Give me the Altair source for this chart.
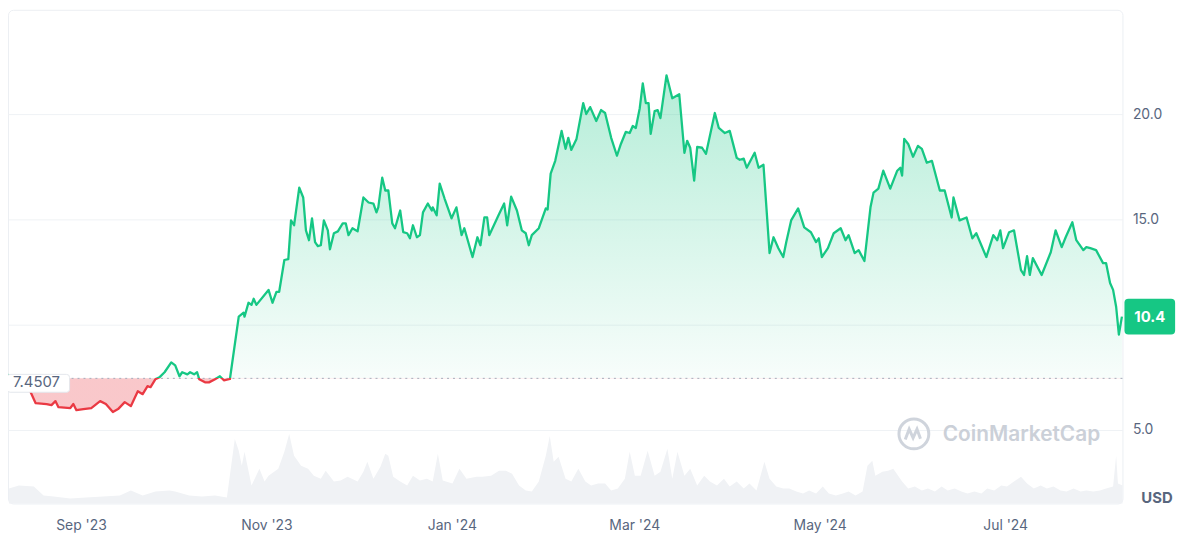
import altair as alt
import pandas as pd

# ---------------- data ----------------
START = pd.Timestamp("2023-08-08")
BASE = 7.4507  # reference (opening) price, USD

# price: days since 8 Aug 2023, USD
PRICE_DAY = [
    0.0, 3.0, 6.5, 8.5, 9.1, 12.7, 14.3, 15.6, 16.6, 20.5,
    21.5, 22.5, 24.8, 27.4, 30.3, 32.2, 34.5, 36.2, 38.4, 40.4,
    42.7, 44.3, 45.9, 46.9, 48.5, 49.8, 51.5, 53.7, 55.0, 56.4,
    57.3, 59.0, 59.9, 61.2, 62.2, 62.9, 64.8, 66.1, 68.1, 69.7,
    71.0, 73.0, 75.9, 77.5, 77.8, 79.1, 80.1, 80.8, 81.7, 85.7,
    87.0, 88.3, 89.2, 90.9, 92.2, 93.1, 94.1, 95.8, 97.1, 98.0,
    99.0, 100.0, 101.0, 101.9, 102.9, 103.9, 105.2, 105.9, 107.2, 108.5,
    110.1, 111.1, 112.0, 113.3, 115.0, 116.9, 118.6, 120.2, 121.2, 121.8,
    123.1, 124.1, 125.1, 126.4, 127.3, 129.0, 130.0, 131.3, 132.2, 133.2,
    134.5, 135.5, 136.5, 138.1, 139.4, 139.7, 141.0, 142.0, 143.6, 145.9,
    147.5, 149.2, 150.1, 152.8, 154.4, 155.4, 156.7, 157.6, 158.3, 161.5,
    163.2, 164.2, 165.5, 167.4, 169.0, 170.3, 171.3, 172.3, 174.6, 176.9,
    177.5, 178.5, 180.0, 182.1, 183.4, 184.3, 185.3, 187.0, 189.2, 190.2,
    191.5, 193.5, 195.1, 196.4, 198.4, 200.3, 201.6, 203.2, 204.5, 205.5,
    206.5, 207.8, 208.8, 209.8, 210.7, 211.4, 212.7, 213.7, 214.6, 216.6,
    218.5, 220.8, 222.5, 223.4, 224.4, 225.7, 226.7, 228.3, 229.6, 232.5,
    233.8, 235.8, 237.4, 239.7, 240.7, 242.0, 243.0, 245.6, 246.9, 248.5,
    250.5, 251.8, 253.4, 255.0, 256.0, 257.6, 259.9, 261.9, 264.1, 265.8,
    266.7, 267.7, 269.7, 271.6, 273.9, 275.5, 276.5, 278.5, 279.8, 281.7,
    283.7, 284.7, 286.3, 287.9, 290.2, 292.5, 293.5, 294.1, 294.8, 296.1,
    297.7, 299.3, 300.6, 302.2, 303.9, 306.5, 308.1, 310.4, 311.0, 313.0,
    315.3, 317.2, 318.5, 321.8, 324.1, 325.4, 326.4, 327.3, 329.3, 330.9,
    333.2, 334.2, 335.2, 336.1, 337.1, 340.0, 343.0, 344.6, 346.6, 347.9,
    350.1, 351.4, 353.7, 354.7, 356.0, 357.9, 360.2, 361.2, 362.5, 363.5,
    364.5, 365.4, 366.4,
]
PRICE_USD = [
    7.62, 7.40, 7.10, 6.46, 6.27, 6.23, 6.18, 6.37, 6.08, 6.04,
    6.23, 5.94, 5.99, 6.04, 6.37, 6.23, 5.85, 5.99, 6.32, 6.13,
    6.84, 6.70, 7.08, 7.03, 7.41, 7.50, 7.74, 8.21, 8.07, 7.55,
    7.74, 7.64, 7.74, 7.64, 7.74, 7.41, 7.26, 7.26, 7.41, 7.55,
    7.36, 7.42, 10.38, 10.57, 10.38, 11.04, 10.94, 11.23, 10.94, 11.65,
    11.04, 11.56, 11.56, 13.07, 13.11, 14.95, 14.72, 16.51, 16.04, 14.48,
    14.01, 15.05, 13.92, 13.73, 13.77, 14.95, 14.48, 13.58, 14.34, 14.43,
    14.81, 14.81, 14.25, 14.58, 14.43, 16.04, 15.80, 15.75, 15.33, 15.57,
    16.98, 16.37, 16.37, 14.81, 14.58, 15.42, 14.39, 14.34, 14.10, 14.72,
    14.15, 14.25, 15.33, 15.75, 15.42, 15.57, 15.19, 16.70, 15.99, 15.05,
    15.57, 14.25, 14.58, 13.21, 14.15, 13.77, 15.09, 15.09, 14.25, 15.24,
    15.75, 14.72, 16.08, 15.42, 14.48, 14.34, 13.77, 14.25, 14.58, 15.52,
    15.47, 17.17, 17.78, 19.20, 18.35, 18.87, 18.30, 18.82, 20.52, 20.00,
    20.33, 19.67, 20.19, 20.05, 18.87, 18.02, 18.58, 19.15, 19.10, 19.43,
    19.34, 20.28, 21.46, 20.52, 20.52, 19.06, 20.14, 20.19, 19.81, 21.84,
    20.75, 20.94, 18.16, 18.73, 18.40, 16.84, 18.44, 18.40, 18.11, 20.05,
    19.34, 19.10, 19.20, 17.92, 17.83, 17.88, 17.45, 18.16, 17.45, 17.59,
    13.40, 14.15, 13.63, 13.21, 13.92, 14.95, 15.52, 14.62, 14.39, 13.92,
    14.10, 13.21, 13.63, 14.34, 14.58, 14.01, 14.25, 13.40, 13.54, 13.02,
    15.57, 16.27, 16.46, 17.31, 16.46, 17.31, 17.45, 17.08, 18.82, 18.58,
    17.97, 18.49, 18.35, 17.69, 17.78, 16.37, 16.37, 15.09, 16.04, 14.95,
    15.09, 14.10, 14.34, 13.21, 14.25, 14.01, 14.48, 13.63, 14.39, 14.48,
    12.59, 12.36, 13.25, 12.36, 13.16, 12.36, 13.44, 14.48, 13.68, 14.15,
    14.86, 14.01, 13.54, 13.68, 13.63, 13.54, 12.92, 12.92, 11.98, 11.65,
    10.85, 9.53, 10.38,
]

# 24h volume: days since 8 Aug 2023, million USD
VOL_DAY = [
    0.3, 3.6, 8.5, 11.7, 15.0, 20.5, 25.7, 31.3, 36.8, 40.4,
    44.3, 48.5, 53.1, 55.0, 59.6, 63.8, 68.1, 72.0, 74.6, 75.9,
    76.9, 77.8, 80.1, 82.7, 84.4, 85.7, 88.9, 90.9, 92.5, 94.1,
    96.4, 98.7, 100.6, 102.9, 104.5, 107.2, 109.4, 111.7, 115.0, 116.9,
    118.2, 120.2, 122.5, 124.1, 125.1, 126.7, 129.0, 131.3, 133.2, 135.5,
    137.8, 139.7, 141.4, 143.0, 146.2, 148.5, 150.8, 154.1, 156.0, 158.9,
    161.5, 163.8, 165.8, 168.1, 170.3, 172.3, 174.6, 176.9, 178.2, 179.5,
    181.1, 183.4, 185.3, 187.6, 189.9, 191.8, 194.1, 196.4, 198.4, 200.6,
    202.9, 204.5, 206.2, 208.1, 210.4, 212.7, 214.6, 216.9, 218.5, 220.2,
    222.5, 224.4, 226.7, 229.0, 230.9, 233.2, 235.5, 237.4, 239.7, 242.0,
    243.9, 246.2, 248.8, 250.5, 252.7, 255.0, 257.0, 259.3, 261.5, 263.5,
    265.8, 268.0, 270.0, 272.3, 274.6, 276.5, 278.8, 281.1, 282.7, 284.3,
    285.3, 287.6, 289.5, 291.2, 294.1, 296.1, 298.3, 300.6, 302.6, 304.9,
    307.1, 309.1, 311.4, 313.6, 315.6, 317.9, 320.2, 322.1, 324.4, 326.7,
    328.6, 330.9, 333.2, 335.2, 337.4, 339.7, 341.7, 343.9, 346.2, 348.2,
    350.5, 352.8, 354.7, 357.0, 359.2, 361.2, 363.5, 364.5, 365.1, 366.6,
]
VOL_MUSD = [
    30, 36, 34, 16, 14, 10, 12, 14, 16, 26,
    16, 24, 26, 24, 16, 14, 16, 12, 130, 106,
    76, 104, 36, 70, 44, 56, 70, 104, 140, 96,
    76, 70, 56, 50, 66, 44, 46, 54, 44, 64,
    84, 50, 74, 100, 96, 54, 44, 36, 56, 46,
    50, 44, 100, 46, 40, 70, 50, 54, 54, 56,
    66, 66, 60, 36, 26, 24, 44, 96, 136, 84,
    94, 50, 44, 70, 44, 36, 40, 40, 26, 30,
    50, 104, 56, 56, 106, 56, 64, 110, 50, 104,
    56, 70, 36, 56, 44, 36, 50, 34, 44, 30,
    40, 26, 84, 50, 34, 30, 30, 24, 20, 26,
    20, 34, 20, 16, 20, 24, 16, 24, 76, 86,
    56, 64, 66, 70, 44, 30, 34, 26, 30, 24,
    34, 26, 30, 24, 20, 24, 20, 30, 26, 36,
    34, 44, 54, 40, 30, 36, 30, 34, 26, 24,
    30, 24, 26, 24, 26, 30, 34, 96, 40, 36,
]

X_TICKS = [(2023, 9), (2023, 11), (2024, 1), (2024, 3), (2024, 5), (2024, 7)]
Y_TICKS = [5, 10, 15, 20]

# ---------------- style / layout ----------------
W, H = 1122, 497
GREEN = "#16c784"
RED = "#ea3943"
GRAY = "#58667e"
Y_DOMAIN = [1.51, 24.95]
VOL_DOMAIN = [0, 994]
X_DOMAIN = [alt.DateTime(year=2023, month=8, date=8),
            alt.DateTime(year=2024, month=8, date=8, hours=14)]

price = pd.DataFrame({"date": START + pd.to_timedelta(PRICE_DAY, unit="D"),
                      "price": PRICE_USD})
price["base"] = BASE
vol = pd.DataFrame({"date": START + pd.to_timedelta(VOL_DAY, unit="D"),
                    "volume": VOL_MUSD})
one = pd.DataFrame({"k": [0]})
LAST = PRICE_USD[-1]

pmax, pmin = max(PRICE_USD), min(PRICE_USD)
frac = round((pmax - BASE) / (pmax - pmin), 4)

line_grad = alt.LinearGradient(
    gradient="linear", x1=0, x2=0, y1=0, y2=1,
    stops=[alt.GradientStop(color=GREEN, offset=0),
           alt.GradientStop(color=GREEN, offset=frac),
           alt.GradientStop(color=RED, offset=frac),
           alt.GradientStop(color=RED, offset=1)])
area_grad = alt.LinearGradient(
    gradient="linear", x1=0, x2=0, y1=0, y2=1,
    stops=[alt.GradientStop(color="rgba(22,199,132,0.32)", offset=0),
           alt.GradientStop(color="rgba(22,199,132,0.03)", offset=frac),
           alt.GradientStop(color="rgba(234,57,67,0.28)", offset=frac),
           alt.GradientStop(color="rgba(234,57,67,0.28)", offset=1)])


def rounded_rect(ay, r):
    ax = 1.0
    return (f"M{-ax + r},{-ay} L{ax - r},{-ay} Q{ax},{-ay} {ax},{-ay + r} "
            f"L{ax},{ay - r} Q{ax},{ay} {ax - r},{ay} L{-ax + r},{ay} "
            f"Q{-ax},{ay} {-ax},{ay - r} L{-ax},{-ay + r} Q{-ax},{-ay} {-ax + r},{-ay} Z")


ysc = alt.Scale(domain=Y_DOMAIN)
x_axis_def = alt.Axis(values=[alt.DateTime(year=y, month=m, date=1) for y, m in X_TICKS],
                      format="%b '%y", labelFontSize=14, labelColor=GRAY,
                      labelPadding=15, ticks=False, tickSize=0, domain=False,
                      grid=False, labelFlush=False, title=None)
x_enc = alt.X("date:T", scale=alt.Scale(domain=X_DOMAIN), axis=x_axis_def)
y_axis = alt.Axis(orient="right", values=Y_TICKS,
                  labelExpr="datum.value == 10 ? '' : format(datum.value, '.1f')",
                  labelFontSize=14, labelColor=GRAY, labelPadding=10,
                  ticks=False, tickSize=0, domain=False, grid=True,
                  gridColor="#eff2f5", gridWidth=1, title=None)

volume = alt.Chart(vol).mark_area(color="#f0f2f5").encode(
    x=x_enc,
    y=alt.Y("volume:Q", scale=alt.Scale(domain=VOL_DOMAIN), axis=None))

area = alt.Chart(price).mark_area(fill=area_grad, strokeWidth=0).encode(
    x=x_enc, y=alt.Y("price:Q", scale=ysc, axis=y_axis), y2="base:Q")

rule = alt.Chart(one).mark_rule(color="#a3abba", strokeDash=[2, 4], strokeWidth=1).encode(
    y=alt.Y(datum=BASE, scale=ysc))

line = alt.Chart(price).mark_line(stroke=line_grad, strokeWidth=2.3, strokeJoin="round").encode(
    x=x_enc, y=alt.Y("price:Q", scale=ysc))

base_box = alt.Chart(one).mark_point(
    shape=rounded_rect(0.286, 0.1), filled=True, fill="white", stroke="#e4e7ec",
    strokeWidth=1, size=3969, opacity=1, yOffset=5).encode(
    x=alt.value(30.5), y=alt.Y(datum=BASE, scale=ysc))
base_text = alt.Chart(one).mark_text(
    text=f"{BASE}", align="left", baseline="middle", fontSize=15, color=GRAY,
    yOffset=4).encode(x=alt.value(5), y=alt.Y(datum=BASE, scale=ysc))

badge = alt.Chart(one).mark_point(
    shape=rounded_rect(0.706, 0.16), filled=True, fill=GREEN, strokeWidth=0,
    size=2601, opacity=1).encode(x=alt.value(W + 27.5), y=alt.Y(datum=LAST, scale=ysc))
badge_text = alt.Chart(one).mark_text(
    text=f"{LAST:.1f}", color="white", fontWeight="bold", fontSize=15,
    align="center", baseline="middle").encode(
    x=alt.value(W + 27.5), y=alt.Y(datum=LAST, scale=ysc))

logo = alt.Chart(one).mark_point(
    shape=("M 0.95 0 A 0.95 0.95 0 1 1 -0.95 0 A 0.95 0.95 0 1 1 0.95 0 "
           "M -0.55 0.35 L -0.3 -0.3 L -0.05 0.25 L 0.2 -0.3 L 0.42 0.3"),
    filled=False, stroke="#cfd4dc", strokeWidth=3, size=1000, opacity=1).encode(
    x=alt.value(912), y=alt.value(427))
wm_text = alt.Chart(one).mark_text(
    text="CoinMarketCap", align="left", baseline="middle", fontSize=21,
    fontWeight=600, color="#cbd0d8").encode(x=alt.value(941), y=alt.value(428))

usd = alt.Chart(one).mark_text(
    text="USD", align="left", baseline="middle", fontSize=15, fontWeight="bold",
    color=GRAY).encode(x=alt.value(W + 19), y=alt.value(H - 5))

inner = alt.layer(area, rule, line, base_box, base_text, badge, badge_text,
                  logo, wm_text, usd)

chart = (
    alt.layer(volume, inner)
    .resolve_scale(y="independent")
    .properties(width=W, height=H,
                padding={"left": 0, "top": 0, "right": 70, "bottom": 40},
                autosize=alt.AutoSizeParams(type="none"))
    .configure(font="Inter")
    .configure_view(stroke="#eceff3", strokeWidth=1, cornerRadius=5)
)

chart.save("out.html", embed_options={"renderer": "svg", "actions": False})
